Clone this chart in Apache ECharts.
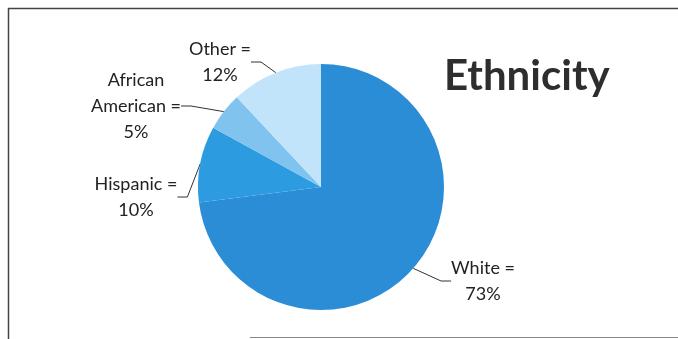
<!DOCTYPE html>
<html>
<head>
<meta charset="utf-8">
<script src="https://cdn.jsdelivr.net/npm/echarts@6/dist/echarts.min.js"></script>
<style>
html,body{margin:0;padding:0;background:#fff;}
#chart{width:678px;height:339px;}
</style>
</head>
<body>
<div id="chart"></div>
<script>
const categories = ['White', 'Hispanic', 'African American', 'Other'];
const values = [73, 10, 5, 12];
const colors = ['#2a8dd6', '#2d9be0', '#80c3ef', '#c2e4fb'];
// label block centres (px) for each slice label
const labelCenters = [[483, 281], [136, 197], [136, 106], [220, 62]];

const chart = echarts.init(document.getElementById('chart'), null, {renderer: 'canvas'});
chart.setOption({
  backgroundColor: '#ffffff',
  animation: false,
  title: {
    text: 'Ethnicity',
    left: 439,
    top: 50,
    textStyle: {fontFamily: 'Lato', fontWeight: 'bold', fontSize: 42, color: '#2e2e2e'}
  },
  graphic: [{
    type: 'polyline',
    shape: {points: [[8.5, 339], [8.5, 8.5], [678, 8.5]]},
    style: {stroke: '#444', lineWidth: 1.5, fill: null}
  }, {
    type: 'line',
    shape: {x1: 250, y1: 337.5, x2: 678, y2: 337.5},
    style: {stroke: '#888', lineWidth: 1}
  }],
  series: [{
    type: 'pie',
    center: [321, 187],
    radius: 123,
    startAngle: 90,
    clockwise: true,
    data: categories.map((c, i) => ({name: c, value: values[i], itemStyle: {color: colors[i]}})),
    label: {
      show: true,
      position: 'outside',
      formatter: p => p.name.replace(' ', '\n') + ' =\n' + p.value + '%',
      fontFamily: 'Lato',
      fontSize: 18,
      lineHeight: 26,
      color: '#222',
      align: 'center'
    },
    labelLine: {show: true, lineStyle: {color: '#333', width: 1}, length: 10, length2: 10},
    labelLayout: function (params) {
      const c = labelCenters[params.dataIndex];
      return {x: c[0], y: c[1], align: 'center', verticalAlign: 'middle'};
    },
    emphasis: {disabled: true}
  }]
});
</script>
</body>
</html>
